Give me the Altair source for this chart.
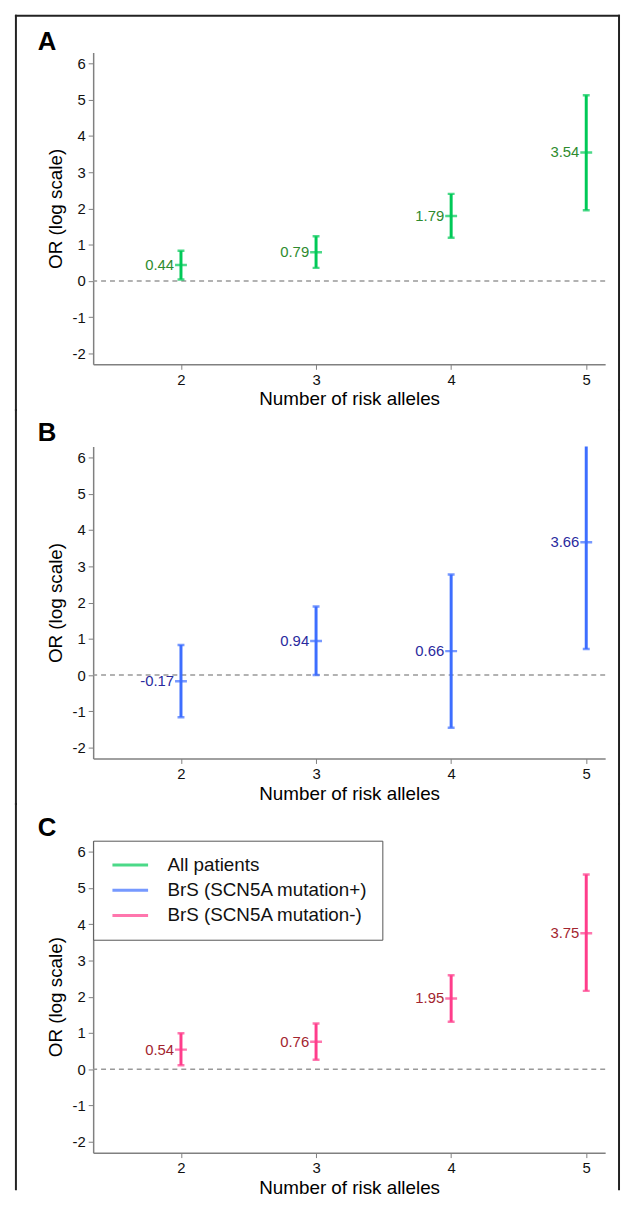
import altair as alt
import pandas as pd

# ---------------- data ----------------
alleles = [2, 3, 4, 5]
series_names = ["All patients", "BrS (SCN5A mutation+)", "BrS (SCN5A mutation-)"]

a_est = [0.44, 0.79, 1.79, 3.54]
a_lo = [0.04, 0.36, 1.19, 1.95]
a_hi = [0.83, 1.23, 2.40, 5.12]

b_est = [-0.17, 0.94, 0.66, 3.66]
b_lo = [-1.16, 0.00, -1.45, 0.72]
b_hi = [0.83, 1.89, 2.77, 6.60]

c_est = [0.54, 0.76, 1.95, 3.75]
c_lo = [0.11, 0.26, 1.31, 2.16]
c_hi = [0.99, 1.26, 2.59, 5.37]

y_ticks = [-2, -1, 0, 1, 2, 3, 4, 5, 6]
panel_letters = ["A", "B", "C"]

bar_colors = ["#00C957", "#3D6EFF", "#FF3D8B"]
label_colors = ["#2E8B2E", "#2A2A9E", "#A3252F"]

# ---------------- styling ----------------
W, H = 517, 315
PITCH = 398
FONT = "Liberation Sans"
TOP = -37
LEFT, RIGHT = -78, 531


def panel(idx, est, lo, hi, legend=False, b_bottom=None,
          border_top=False, letter_y=-5):
    if b_bottom is None:
        b_bottom = TOP + PITCH
    df = pd.DataFrame({
        "alleles": alleles,
        "est": est,
        "lo": lo,
        "hi": hi,
        "label": [f"{v:.2f}" for v in est],
        "series": series_names[idx],
    })
    base = alt.Chart(df)
    xs = alt.Scale(domain=[1.35, 5.14], nice=False, zero=False)
    ys = alt.Scale(domain=[-2.3, 6.3], nice=False, zero=False)
    x_axis = alt.Axis(values=alleles, labelExpr="'' + datum.value",
                      title="Number of risk alleles")
    y_axis = alt.Axis(values=y_ticks, labelExpr="'' + datum.value",
                      title="OR (log scale)")
    x = alt.X("alleles:Q", scale=xs, axis=x_axis)

    if legend:
        color = alt.Color(
            "series:N",
            scale=alt.Scale(domain=series_names, range=bar_colors),
            legend=alt.Legend(
                title=None, orient="top-left", offset=0, padding=14,
                strokeColor="#555555", fillColor="white",
                labelFont=FONT, labelFontSize=19, labelColor="#111111",
                labelLimit=400, labelOffset=40,
                symbolType="M-0.56,0H3.44", symbolSize=324,
                symbolStrokeWidth=3, rowPadding=4.5,
            ),
        )
    else:
        color = alt.value(bar_colors[idx])

    frame = alt.Chart(pd.DataFrame({"k": [0]}))
    layers = [
        frame.mark_rule(color="#222222", strokeWidth=2, strokeCap="square").encode(
            x=alt.value(LEFT), y=alt.value(TOP), y2=alt.value(b_bottom)),
        frame.mark_rule(color="#222222", strokeWidth=2, strokeCap="square").encode(
            x=alt.value(RIGHT), y=alt.value(TOP), y2=alt.value(b_bottom)),
    ]
    if border_top:
        layers.append(frame.mark_rule(color="#222222", strokeWidth=2, strokeCap="square").encode(
            x=alt.value(LEFT), x2=alt.value(RIGHT), y=alt.value(TOP)))

    letter = alt.Chart(pd.DataFrame({"letter": [panel_letters[idx]]})).mark_text(
        align="left", baseline="alphabetic", font=FONT, fontSize=26,
        fontWeight="bold", color="#000000"
    ).encode(text="letter:N", x=alt.value(-56), y=alt.value(letter_y))

    zero = alt.Chart(pd.DataFrame({"ref": [0]})).mark_rule(
        color="#999999", strokeWidth=1.5, strokeDash=[5, 4]
    ).encode(y=alt.Y("ref:Q", scale=ys, axis=y_axis))

    bars = base.mark_rule(strokeWidth=3, clip=True).encode(
        x=x, y=alt.Y("lo:Q", scale=ys, axis=y_axis), y2="hi:Q", color=color)
    cap_lo = base.mark_tick(orient="horizontal", size=7, thickness=2.5, clip=True).encode(
        x=x, y=alt.Y("lo:Q", scale=ys, axis=y_axis), color=color)
    cap_hi = base.mark_tick(orient="horizontal", size=7, thickness=2.5, clip=True).encode(
        x=x, y=alt.Y("hi:Q", scale=ys, axis=y_axis), color=color)
    center = base.mark_tick(orient="horizontal", size=12, thickness=2.5, clip=True).encode(
        x=x, y=alt.Y("est:Q", scale=ys, axis=y_axis), color=color)
    labels = base.mark_text(align="right", baseline="middle", dx=-7,
                            font=FONT, fontSize=15).encode(
        x=x, y=alt.Y("est:Q", scale=ys, axis=y_axis), text="label:N",
        color=alt.value(label_colors[idx]))

    layers += [letter, zero, bars, cap_lo, cap_hi, center, labels]
    return alt.layer(*layers).properties(width=W, height=H)


pA = panel(0, a_est, a_lo, a_hi, border_top=True, letter_y=-2)
pB = panel(1, b_est, b_lo, b_hi, letter_y=-6)
pC = panel(2, c_est, c_lo, c_hi, legend=True, b_bottom=352, letter_y=-5)

chart = alt.vconcat(pA, pB, pC, spacing=PITCH - H, bounds="flush").resolve_scale(
    color="independent").resolve_legend(color="independent").properties(
    padding={"left": 6, "top": 0, "right": 0, "bottom": 0}
).configure_view(stroke=None).configure_axis(
    grid=False, domainColor="#808080", domainWidth=1.5,
    tickColor="#808080", tickWidth=1, tickSize=5,
    labelFont=FONT, labelFontSize=15, labelColor="#111111", labelPadding=3,
    titleFont=FONT, titleFontSize=19, titleFontWeight="normal", titleColor="#000000",
).configure_axisY(titlePadding=7).configure_axisX(titlePadding=3)

chart.save("out.html", embed_options={"renderer": "svg", "actions": False})
